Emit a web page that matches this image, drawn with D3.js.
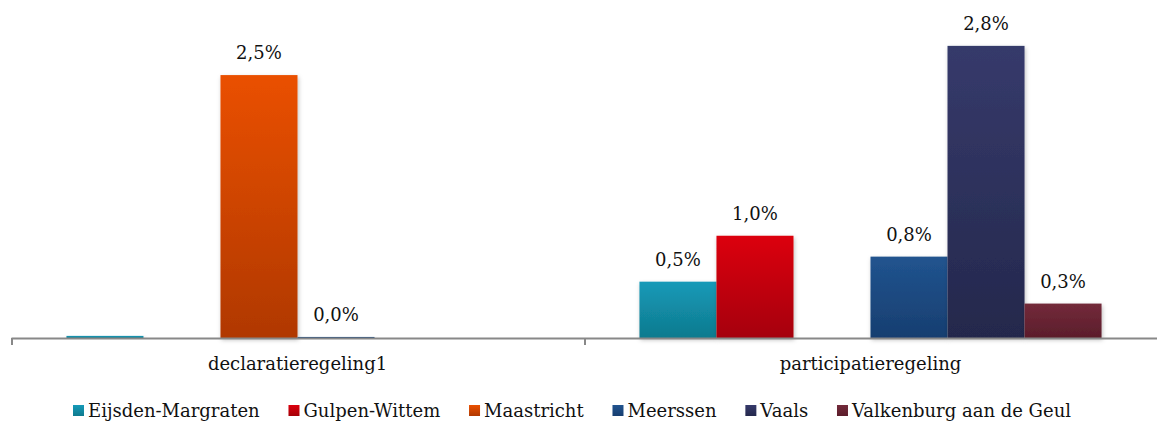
<!DOCTYPE html>
<html>
<head>
<meta charset="utf-8">
<script src="https://cdn.jsdelivr.net/npm/d3@7"></script>
<style>
body { margin: 0; background: #fff; }
svg { display: block; }
svg text { font-family: "DejaVu Serif", "DejaVu Sans", serif; }
</style>
</head>
<body>
<div id="chart"></div>
<script>
const width = 1157, height = 422;

const categories = ["declaratieregeling1", "participatieregeling"];
const series = ["Eijsden-Margraten", "Gulpen-Wittem", "Maastricht", "Meerssen", "Vaals", "Valkenburg aan de Geul"];
// values in %, one array per series: [declaratieregeling1, participatieregeling]
const eijsden = [0.02, 0.54];
const gulpen = [null, 0.98];
const maastricht = [2.52, null];
const meerssen = [0.01, 0.78];
const vaals = [null, 2.80];
const valkenburg = [null, 0.33];
const hiddenLabels = [[0, 0]]; // [category, series] with no label in the original

const topColors = ["#159ab8", "#dc000d", "#ea5000", "#21548f", "#363a6b", "#732a3a"];
const bottomColors = ["#0f7a8e", "#a50008", "#b03800", "#173e70", "#24284c", "#5b1d2b"];

const values = [eijsden, gulpen, maastricht, meerssen, vaals, valkenburg];

const margin = {left: 11, right: 0, top: 25, bottom: 84};
const fmt = d3.format(".1f");
const fontSize = 18;

const svg = d3.select("#chart").append("svg")
    .attr("width", width)
    .attr("height", height);

const defs = svg.append("defs");
series.forEach((s, i) => {
    const g = defs.append("linearGradient")
        .attr("id", "grad" + i)
        .attr("x1", 0).attr("y1", 0).attr("x2", 0).attr("y2", 1);
    g.append("stop").attr("offset", "0%").attr("stop-color", topColors[i]);
    g.append("stop").attr("offset", "100%").attr("stop-color", bottomColors[i]);
});
const shadow = defs.append("filter").attr("id", "shadow")
    .attr("x", "-20%").attr("y", "-20%").attr("width", "140%").attr("height", "140%");
shadow.append("feDropShadow")
    .attr("dx", 1).attr("dy", 2).attr("stdDeviation", 2)
    .attr("flood-color", "#000").attr("flood-opacity", 0.25);

const x0 = d3.scaleBand()
    .domain(categories)
    .range([margin.left, width - margin.right])
    .paddingInner(0)
    .paddingOuter(0);

const x1 = d3.scaleBand()
    .domain(series)
    .range([0, x0.bandwidth()])
    .paddingOuter(0.72);

const y = d3.scaleLinear()
    .domain([0, 3])
    .range([height - margin.bottom, margin.top]);

const groups = svg.append("g")
    .selectAll("g")
    .data(categories)
    .join("g")
    .attr("transform", d => `translate(${x0(d)},0)`);

const bars = groups.selectAll("g.bar")
    .data((c, ci) => series.map((s, si) => ({c, ci, s, si, v: values[si][ci]})).filter(d => d.v != null))
    .join("g")
    .attr("class", "bar");

bars.append("rect")
    .attr("x", d => x1(d.s))
    .attr("y", d => y(d.v))
    .attr("width", x1.bandwidth())
    .attr("height", d => y(0) - y(d.v))
    .attr("fill", d => `url(#grad${d.si})`)
    .attr("filter", "url(#shadow)");

bars.filter(d => !hiddenLabels.some(h => h[0] === d.ci && h[1] === d.si))
    .append("text")
    .attr("x", d => x1(d.s) + x1.bandwidth() / 2)
    .attr("y", d => y(d.v) - 16)
    .attr("text-anchor", "middle")
    .attr("font-size", fontSize)
    .attr("fill", "#111")
    .text(d => fmt(d.v).replace(".", ",") + "%");

// axis
const axis = svg.append("g")
    .attr("transform", `translate(0,${y(0)})`)
    .call(d3.axisBottom(x0).tickSize(0).tickPadding(19).tickSizeOuter(0));
axis.attr("font-family", null);
axis.select(".domain").attr("stroke", "#888").attr("stroke-width", 2);
axis.selectAll("text")
    .attr("font-size", fontSize)
    .attr("fill", "#111");
axis.selectAll(".sep")
    .data([x0.range()[0], x0(categories[1])])
    .join("line")
    .attr("class", "sep")
    .attr("x1", d => d + 1).attr("x2", d => d + 1)
    .attr("y1", 0).attr("y2", 7)
    .attr("stroke", "#888").attr("stroke-width", 2);

// legend, spread over the same span as the original (73 .. 1071)
const legendStart = 73, legendEnd = 1071;
const legend = svg.append("g").attr("transform", `translate(${legendStart},411)`);
const items = series.map((s, i) => {
    const item = legend.append("g");
    item.append("rect")
        .attr("x", 0).attr("y", -6)
        .attr("width", 11).attr("height", 11)
        .attr("fill", `url(#grad${i})`);
    const t = item.append("text")
        .attr("x", 15).attr("y", 6)
        .attr("font-size", fontSize)
        .attr("fill", "#111")
        .text(s);
    return {item, w: 15 + t.node().getComputedTextLength()};
});
const gap = (legendEnd - legendStart - d3.sum(items, d => d.w)) / (items.length - 1);
let lx = 0;
items.forEach(d => {
    d.item.attr("transform", `translate(${lx},0)`);
    lx += d.w + gap;
});
</script>
</body>
</html>
